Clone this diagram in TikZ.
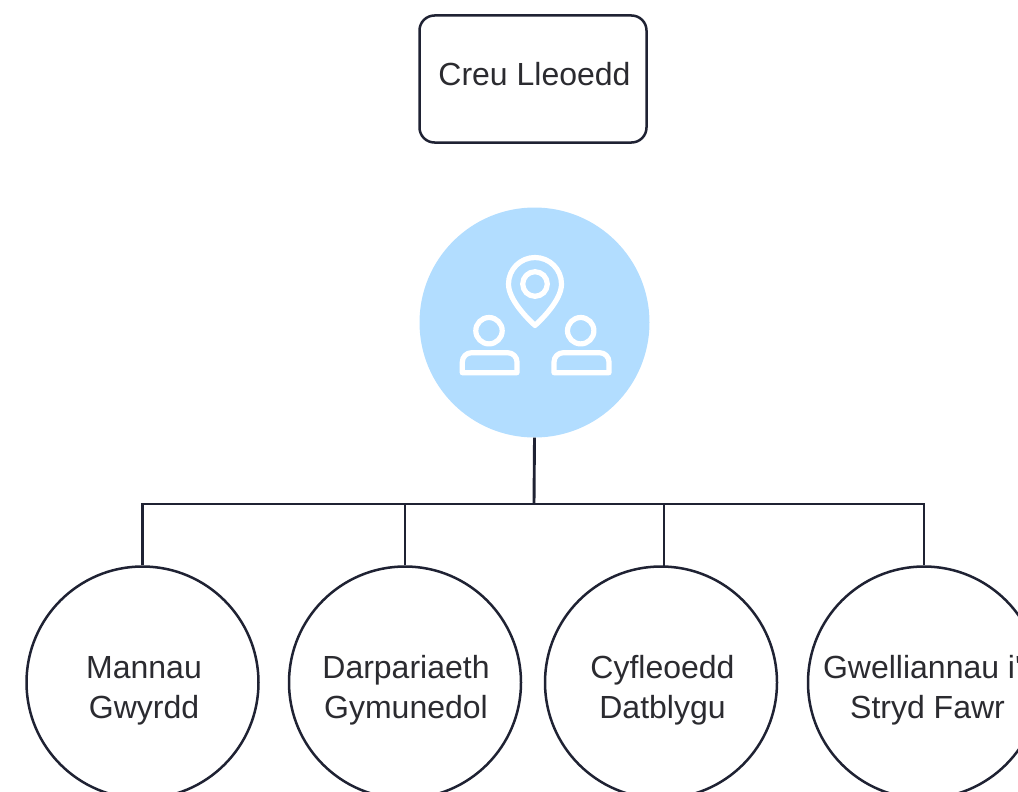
\documentclass[tikz,border=0pt]{standalone}
\usepackage{fontspec}
\newfontfamily\arialish{Liberation Sans}
\definecolor{ink}{HTML}{1F2233}
\definecolor{txt}{HTML}{2B2B30}
\definecolor{hubblue}{HTML}{B2DDFF}
\tikzset{
  shapetext/.style={text=txt,align=center,inner sep=0pt,font=\arialish\fontsize{32}{40}\selectfont},
  leaf/.style={circle,draw=ink,line width=2.5pt,minimum size=232pt,inner sep=0pt},
  topbox/.style={rectangle,rounded corners=15pt,draw=ink,line width=2.5pt,minimum width=227pt,minimum height=127pt,inner sep=0pt},
  hubnode/.style={circle,fill=hubblue,minimum size=230pt,inner sep=0pt},
  link/.style={draw=ink,line width=2.9pt},
  glyph/.style={draw=white,line width=5.2pt,line join=round}
}
\begin{document}
\begin{tikzpicture}[x=1pt,y=-1pt]
\useasboundingbox (0,0) rectangle (1018,792);
\clip (0,0) rectangle (1018,792);
\node[topbox,label={[shapetext,xshift=1.5pt,yshift=5pt]center:Creu Lleoedd}] (title) at (533,79) {};
\node[hubnode] (hub) at (534.5,322.5) {};
\node[leaf,label={[shapetext,xshift=1.5pt,yshift=-8pt]center:Mannau\\Gwyrdd}] (m1) at (142.5,682.5) {};
\node[leaf,label={[shapetext,xshift=1pt,yshift=-8pt]center:Darpariaeth\\Gymunedol}] (m2) at (405,682.5) {};
\node[leaf,label={[shapetext,xshift=1.5pt,yshift=-8pt]center:Cyfleoedd\\Datblygu}] (m3) at (661,682.5) {};
\node[leaf,label={[shapetext,xshift=3.5pt,yshift=-8pt]center:Gwelliannau i'r\\Stryd Fawr}] (m4) at (924,682.5) {};
\coordinate (bus) at (534,504);
\coordinate (m3top) at (664,566.5);
\draw[link] (hub.south) -- (bus);
\draw[link] (m1.north) |- (bus);
\draw[link] (m2.north) |- (bus);
\draw[link] (m3top) |- (bus);
\draw[link] (m4.north) |- (bus);
% icon
\draw[glyph] (535,325.5) .. controls (528,319) and (508.5,300) .. (508.5,284)
  arc[start angle=180,end angle=360,radius=26.5]
  .. controls (561.5,300) and (542,319) .. cycle;
\draw[glyph] (535,284) circle[radius=12.3];
\draw[glyph] (489,330.7) circle[radius=13.2];
\draw[glyph] (580.7,330.7) circle[radius=13.2];
\draw[glyph] (462.3,372.7) -- (462.3,362) arc[start angle=180,end angle=270,radius=9.3] -- (507.7,352.7) arc[start angle=270,end angle=360,radius=9.3] -- (517,372.7) -- cycle;
\draw[glyph] (554,372.7) -- (554,362) arc[start angle=180,end angle=270,radius=9.3] -- (599.7,352.7) arc[start angle=270,end angle=360,radius=9.3] -- (609,372.7) -- cycle;
\end{tikzpicture}
\end{document}
